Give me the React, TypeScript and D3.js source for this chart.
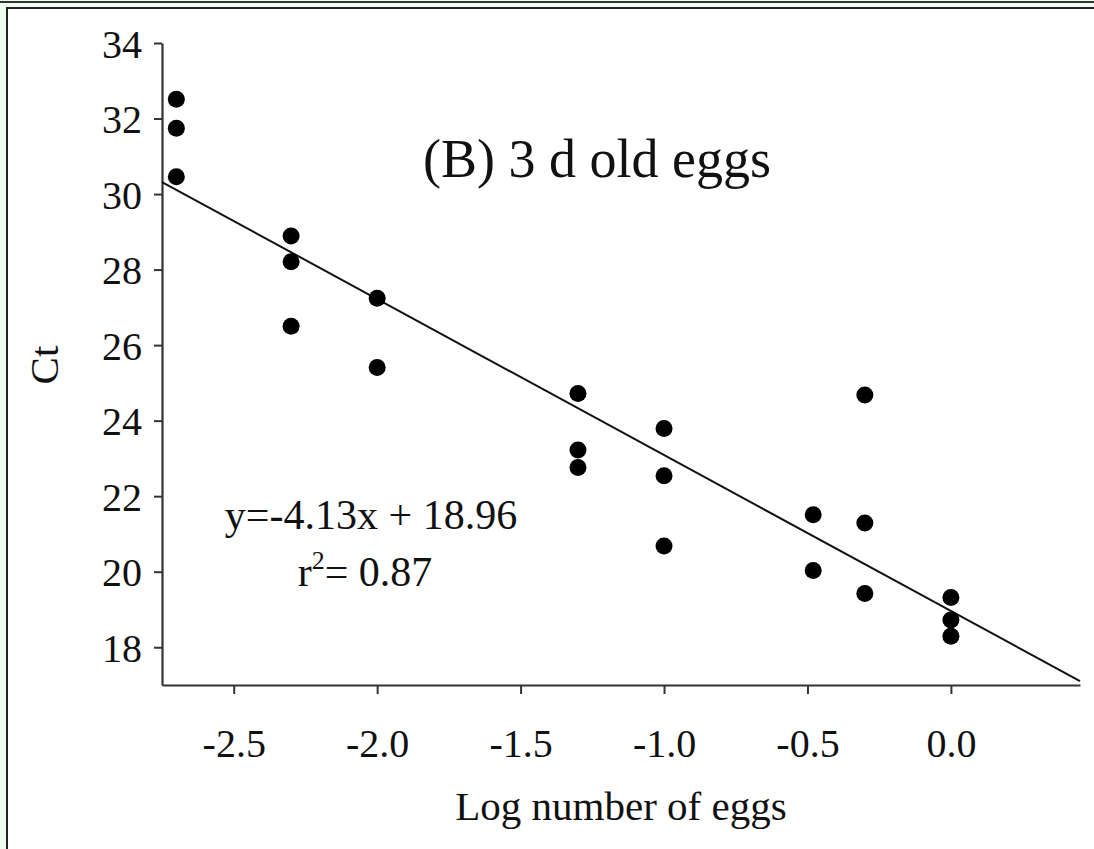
import React, { useEffect, useRef } from "react";
import * as d3 from "d3";

// log number of eggs per replicate, and the Ct read for it
const logEggs = [
  -2.7, -2.7, -2.7,
  -2.3, -2.3, -2.3,
  -2.0, -2.0,
  -1.3, -1.3, -1.3,
  -1.0, -1.0, -1.0,
  -0.48, -0.48,
  -0.3, -0.3, -0.3,
  0.0, 0.0, 0.0,
];
const ctValues = [
  32.51, 31.74, 30.46,
  28.89, 28.21, 26.5,
  27.24, 25.41,
  24.72, 23.22, 22.76,
  23.79, 22.54, 20.68,
  21.51, 20.03,
  24.68, 21.29, 19.42,
  19.32, 18.72, 18.29,
];
const xTicks = [-2.5, -2.0, -1.5, -1.0, -0.5, 0.0];
const yTicks = [18, 20, 22, 24, 26, 28, 30, 32, 34];
const slope = -4.13;
const intercept = 18.96;

const App: React.FC = () => {
  const ref = useRef<SVGSVGElement>(null);

  useEffect(() => {
    if (!ref.current) return;
    const svg = d3.select(ref.current);
    svg.selectAll("*").remove();

    const width = 1094;
    const height = 849;
    const font = "'Liberation Serif', 'Times New Roman', serif";

    // page frame
    svg.append("rect").attr("width", width).attr("height", height).attr("fill", "#effdf0");
    svg.append("line").attr("x1", 0).attr("x2", width).attr("y1", 2).attr("y2", 2)
      .attr("stroke", "#333").attr("stroke-width", 2);
    svg.append("rect").attr("x", 7).attr("y", 8).attr("width", width + 20).attr("height", height)
      .attr("fill", "#fff").attr("stroke", "#222").attr("stroke-width", 2);

    const x = d3.scaleLinear().domain([-2.75, 0.45]).range([162, 1080]);
    const y = d3.scaleLinear().domain([17, 34]).range([685, 43]);

    const gx = svg.append("g")
      .attr("transform", `translate(0,${y(17)})`)
      .call(d3.axisBottom(x).tickValues(xTicks).tickFormat((d) => (+d).toFixed(1))
        .tickSize(9).tickPadding(35).tickSizeOuter(0));
    const gy = svg.append("g")
      .attr("transform", `translate(${x(-2.75)},0)`)
      .call(d3.axisLeft(y).tickValues(yTicks).tickFormat((d) => String(d))
        .tickSize(8).tickPadding(12).tickSizeOuter(0));

    [gx, gy].forEach((g) => {
      g.select(".domain").attr("stroke", "#333").attr("stroke-width", 2.2);
      g.selectAll(".tick line").attr("stroke", "#333").attr("stroke-width", 2);
      g.selectAll(".tick text").attr("font-family", font).attr("font-size", 40).attr("fill", "#111");
    });
    gy.selectAll(".tick text").attr("dy", "0.35em");

    // regression line
    svg.append("line")
      .attr("x1", x(-2.75)).attr("y1", y(slope * -2.75 + intercept))
      .attr("x2", x(0.45)).attr("y2", y(slope * 0.45 + intercept))
      .attr("stroke", "#111").attr("stroke-width", 2);

    svg.selectAll(".pt")
      .data(logEggs.map((v, i) => [v, ctValues[i]]))
      .enter().append("circle")
      .attr("class", "pt")
      .attr("cx", (d) => x(d[0]))
      .attr("cy", (d) => y(d[1]))
      .attr("r", 8.5)
      .attr("fill", "#000");

    svg.append("text").attr("x", 597).attr("y", 177).attr("text-anchor", "middle")
      .attr("font-family", font).attr("font-size", 54).attr("fill", "#111")
      .text("(B) 3 d old eggs");

    svg.append("text").attr("x", 371).attr("y", 529).attr("text-anchor", "middle")
      .attr("font-family", font).attr("font-size", 42).attr("fill", "#111")
      .text("y=-4.13x + 18.96");
    const r2 = svg.append("text").attr("x", 365).attr("y", 586).attr("text-anchor", "middle")
      .attr("font-family", font).attr("font-size", 42).attr("fill", "#111");
    r2.append("tspan").text("r");
    r2.append("tspan").attr("font-size", 26).attr("dy", -17).text("2");
    r2.append("tspan").attr("dy", 17).text("= 0.87");

    svg.append("text").attr("x", 621).attr("y", 820).attr("text-anchor", "middle")
      .attr("font-family", font).attr("font-size", 41).attr("fill", "#111")
      .text("Log number of eggs");
    svg.append("text").attr("transform", `translate(58,365) rotate(-90)`).attr("text-anchor", "middle")
      .attr("font-family", font).attr("font-size", 41).attr("fill", "#111")
      .text("Ct");
  }, []);

  return (
    <svg ref={ref} width={1094} height={849}
      style={{ position: "absolute", left: 0, top: 0, display: "block" }} />
  );
};

export default App;
